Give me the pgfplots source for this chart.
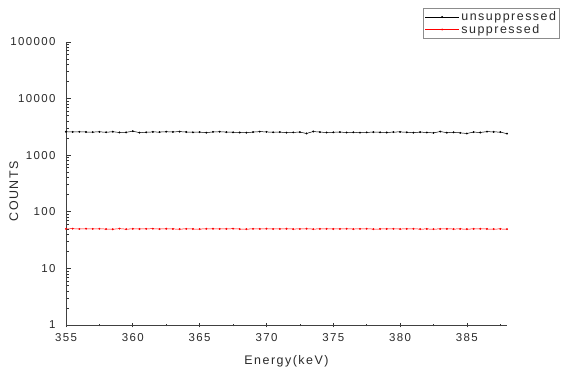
\documentclass[border=0pt]{standalone}
\usepackage{pgfplots}
\pgfplotsset{compat=1.18}
\usepackage{fontspec}
\setmainfont{Liberation Sans}
\newfontfamily\wide[LetterSpace=12]{Liberation Sans}
\definecolor{txt}{HTML}{2a2a2a}
\begin{document}
\begin{tikzpicture}
\useasboundingbox (-66bp,-46bp) rectangle (505bp,325bp);
\begin{axis}[
  scale only axis,
  width=441bp, height=283bp,
  ymode=log,
  xmin=355, xmax=388, ymin=1, ymax=100000,
  axis x line*=bottom, axis y line*=left,
  axis line style={black!75, line width=0.9pt, -},
  xtick={355,360,...,385},
  minor xtick={357.5,362.5,367.5,372.5,377.5,382.5,387.5},
  ytick={1,10,100,1000,10000,100000},
  yticklabels={1,10,100,1000,10000,100000},
  minor ytick={2,3,4,5,6,7,8,9,20,30,40,50,60,70,80,90,200,300,400,500,600,700,800,900,2000,3000,4000,5000,6000,7000,8000,9000,20000,30000,40000,50000,60000,70000,80000,90000},
  /pgf/number format/assume math mode=true,
  /pgf/number format/1000 sep={},
  xtick align=center, ytick align=inside,
  major tick length=5bp, minor tick length=3bp,
  every tick/.style={black!80, line width=0.8pt},
  every minor tick/.style={black!80, line width=0.6pt},
  ticklabel style={font=\wide\fontsize{11.5}{13}\selectfont, text=txt},
  xticklabel style={yshift=-2bp},
  yticklabel style={xshift=-7bp},
  xlabel={Energy(keV)}, ylabel={COUNTS},
  label style={font=\wide\fontsize{12.5}{14}\selectfont, text=txt},
  x label style={at={(axis description cs:0.5,-0.127)}, anchor=center},
  y label style={at={(axis description cs:-0.118,0.473)}, anchor=center},
  legend style={at={(axis description cs:0.81,1.12)}, anchor=north west,
    draw=black!45, font=\wide\fontsize{12.5}{13}\selectfont, text=txt,
    inner sep=1.5bp, row sep=-2bp},
  legend cell align=left,
  legend image code/.code={\draw[#1] (0cm,0cm) -- (1.2cm,0cm);\path[#1] plot coordinates {(0.6cm,0cm)};},
]
\addplot[black, line width=0.5pt, mark=*, mark size=0.7pt] coordinates {
(355,2600)(355.5,2580)(356,2590)(356.5,2570)(357,2560)(357.5,2590)(358,2540)(358.5,2600)(359,2520)(359.5,2530)
(360,2660)(360.5,2500)(361,2540)(361.5,2580)(362,2560)(362.5,2600)(363,2580)(363.5,2610)(364,2570)(364.5,2540)
(365,2560)(365.5,2500)(366,2580)(366.5,2600)(367,2560)(367.5,2540)(368,2520)(368.5,2500)(369,2560)(369.5,2610)
(370,2580)(370.5,2540)(371,2560)(371.5,2500)(372,2530)(372.5,2560)(373,2420)(373.5,2620)(374,2560)(374.5,2520)
(375,2540)(375.5,2560)(376,2520)(376.5,2540)(377,2500)(377.5,2530)(378,2560)(378.5,2540)(379,2520)(379.5,2560)
(380,2580)(380.5,2540)(381,2500)(381.5,2560)(382,2520)(382.5,2480)(383,2620)(383.5,2500)(384,2540)(384.5,2480)
(385,2420)(385.5,2560)(386,2520)(386.5,2610)(387,2580)(387.5,2560)(388,2400)
};
\addlegendentry{unsuppressed}
\addplot[red, line width=0.5pt, mark=*, mark size=0.7pt] coordinates {
(355,50)(355.5,50.3)(356,49.8)(356.5,50.2)(357,49.9)(357.5,50.1)(358,49.5)(358.5,49.2)(359,50.4)(359.5,49.3)
(360,50.1)(360.5,49.7)(361,50.0)(361.5,50.3)(362,49.6)(362.5,50.2)(363,49.8)(363.5,49.4)(364,50.0)(364.5,49.7)
(365,49.5)(365.5,50.1)(366,50.2)(366.5,49.8)(367,49.9)(367.5,50.3)(368,49.6)(368.5,49.4)(369,50.0)(369.5,49.8)
(370,50.2)(370.5,49.7)(371,49.9)(371.5,50.1)(372,49.6)(372.5,49.8)(373,50.2)(373.5,49.5)(374,49.9)(374.5,50.0)
(375,49.7)(375.5,49.8)(376,50.1)(376.5,49.6)(377,49.9)(377.5,50.2)(378,49.5)(378.5,49.7)(379,49.8)(379.5,50.0)
(380,49.6)(380.5,49.9)(381,50.1)(381.5,49.5)(382,49.8)(382.5,49.4)(383,49.9)(383.5,50.0)(384,49.6)(384.5,49.8)
(385,49.4)(385.5,49.9)(386,50.1)(386.5,49.7)(387,49.5)(387.5,49.8)(388,49.3)
};
\addlegendentry{suppressed}
\end{axis}
\end{tikzpicture}
\end{document}
